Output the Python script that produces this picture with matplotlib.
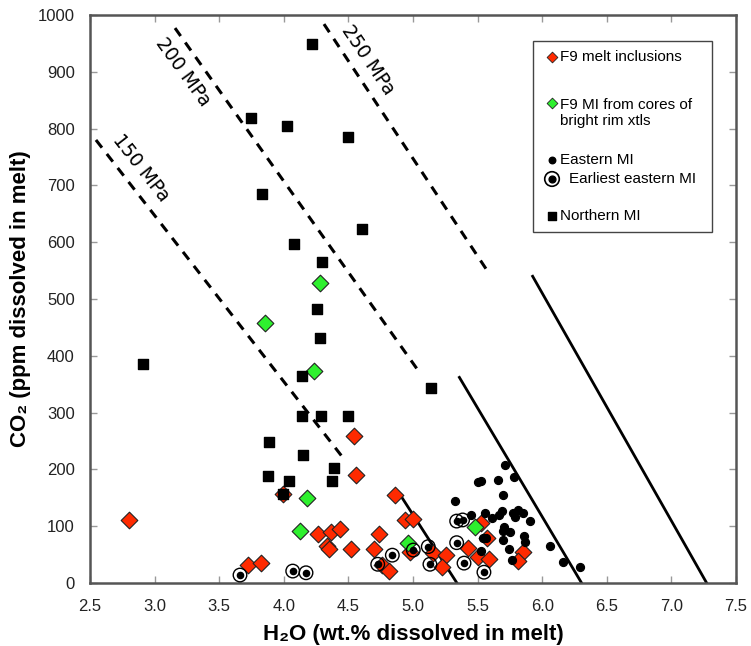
import matplotlib
matplotlib.use("Agg")
import matplotlib.pyplot as plt
from matplotlib.patches import Rectangle

plt.rcParams['font.family'] = ['Liberation Sans', 'DejaVu Sans']

# ---------------- data ----------------
red_h2o = [2.804, 3.720, 3.823, 4.543, 4.556, 3.991, 4.267, 4.363, 4.435, 4.332, 4.352, 4.520,
           4.698, 4.739, 4.861, 4.760, 4.814, 4.938, 4.997, 4.977, 5.157, 5.255, 5.227, 5.428,
           5.505, 5.588, 5.570, 5.524, 5.854, 5.815]
red_co2 = [111, 32, 35, 258, 190, 157, 87, 90, 95, 65, 60, 59,
           59, 86, 155, 32, 21, 111, 112, 55, 52, 49, 29, 62,
           46, 42, 79, 105, 55, 38]

green_h2o = [4.280, 3.854, 4.236, 4.180, 4.125, 4.964, 5.480]
green_co2 = [529, 457, 373, 149, 92, 70, 98]

east_h2o = [5.712, 5.782, 5.501, 5.524, 5.656, 5.694, 5.325, 5.560, 5.614, 5.449, 5.666, 5.686,
            5.772, 5.790, 5.815, 5.854, 5.906, 5.704, 5.699, 5.751, 5.859, 5.867, 5.694, 5.740,
            5.539, 5.565, 5.526, 5.769, 6.060, 6.159, 6.295]
east_co2 = [207, 187, 177, 180, 181, 155, 144, 124, 114, 119, 119, 126,
            123, 117, 129, 123, 110, 98, 92, 89, 82, 73, 75, 60,
            80, 80, 57, 40, 65, 37, 28]

early_h2o = [3.661, 4.069, 4.172, 4.727, 4.840, 5.002, 5.118, 5.131, 5.338, 5.384, 5.338, 5.395, 5.549]
early_co2 = [14, 21, 18, 33, 49, 58, 64, 33, 109, 111, 71, 35, 19]

north_h2o = [4.216, 3.746, 4.027, 4.494, 3.834, 4.603, 4.081, 4.298, 4.257, 4.280, 4.141, 2.908,
             3.888, 3.875, 4.141, 4.288, 4.494, 4.146, 4.391, 4.040, 4.373, 3.996, 5.137]
north_co2 = [949, 819, 805, 785, 685, 623, 597, 566, 482, 431, 364, 386,
             248, 188, 294, 294, 294, 225, 202, 179, 180, 157, 343]

# isobars (dashed): [x0, x1], [y0, y1]
dashed_labels = ['150 MPa', '200 MPa', '250 MPa']
dashed_h2o = [[2.546, 4.46], [3.158, 5.031], [4.311, 5.580]]
dashed_co2 = [[780, 220], [977, 377], [984, 548]]
# solid isobars
solid_h2o = [[4.91, 5.34], [5.359, 6.305], [5.926, 7.273]]
solid_co2 = [[152, 0], [362, 0], [540, 0]]

x_ticks = [2.5, 3.0, 3.5, 4.0, 4.5, 5.0, 5.5, 6.0, 6.5, 7.0, 7.5]
y_ticks = [0, 100, 200, 300, 400, 500, 600, 700, 800, 900, 1000]

RED = '#ff2a00'
GREEN = '#2ef02e'

fig = plt.figure(figsize=(7.51, 6.46), dpi=100)
ax = fig.add_axes([90/751, 1-583/646, 646/751, 568/646])
ax.set_xlim(2.5, 7.5)
ax.set_ylim(0, 1000)

for xs, ys in zip(dashed_h2o, dashed_co2):
    ax.plot(xs, ys, color='black', lw=2.2, ls=(0, (3.2, 2.6)), zorder=2)
for xs, ys in zip(solid_h2o, solid_co2):
    ax.plot(xs, ys, color='black', lw=2.0, zorder=2)

# isobar labels
lab_pos = [(141, 168, -52), (183, 72, -54), (368, 60, -56)]
for lab, (px, py, rot) in zip(dashed_labels, lab_pos):
    ax.text((px-90)/646, (583-py)/568, lab, transform=ax.transAxes, rotation=rot,
            rotation_mode='anchor', ha='center', va='center', fontsize=13.5,
            family=['DejaVu Sans'])

ax.scatter(red_h2o, red_co2, marker='D', s=72, c=RED, edgecolors='#222222', linewidths=0.8, zorder=3)
ax.scatter(green_h2o, green_co2, marker='D', s=72, c=GREEN, edgecolors='#222222', linewidths=0.8, zorder=4)
ax.scatter(early_h2o, early_co2, marker='o', s=95, facecolors='none', edgecolors='black', linewidths=1.0, zorder=5)
ax.scatter(early_h2o, early_co2, marker='o', s=20, c='black', zorder=5)
ax.scatter(east_h2o, east_co2, marker='o', s=32, c='black', zorder=5)
ax.scatter(north_h2o, north_co2, marker='s', s=50, c='black', zorder=6)

# axes styling
ax.set_xticks(x_ticks)
ax.set_xticklabels([f'{v:.1f}' for v in x_ticks])
ax.set_yticks(y_ticks)
ax.set_yticklabels([str(v) for v in y_ticks])
ax.tick_params(direction='in', length=5, width=1.0, color='#999999', top=True, right=True,
               labelsize=12, labelcolor='#222222')
ax.tick_params(axis='x', pad=11.5)
ax.tick_params(axis='y', pad=11)
for s in ax.spines.values():
    s.set_color('#555555')
    s.set_linewidth(1.8)

ax.set_xlabel('H\u2082O (wt.% dissolved in melt)', fontsize=16, fontweight='bold', labelpad=7)
ax.set_ylabel('CO\u2082 (ppm dissolved in melt)', fontsize=16, fontweight='bold', labelpad=5)

# manual legend
def ax_xy(px, py):
    return (px-90)/646, (583-py)/568

x0, y0 = ax_xy(533, 232)
x1, y1 = ax_xy(712, 41)
ax.add_patch(Rectangle((x0, y0), x1-x0, y1-y0, transform=ax.transAxes, facecolor='white',
                       edgecolor='#444444', lw=1.0, zorder=7))
mx = (552-90)/646
ax.scatter([mx], [ax_xy(0, 57)[1]], marker='D', s=30, c=RED, edgecolors='#222222', linewidths=0.6, transform=ax.transAxes, zorder=8)
ax.scatter([mx], [ax_xy(0, 103)[1]], marker='D', s=30, c=GREEN, edgecolors='#222222', linewidths=0.6, transform=ax.transAxes, zorder=8)
ax.scatter([mx], [ax_xy(0, 160)[1]], marker='o', s=22, c='black', transform=ax.transAxes, zorder=8)
ax.scatter([mx], [ax_xy(0, 179)[1]], marker='o', s=110, facecolors='none', edgecolors='black', linewidths=1.2, transform=ax.transAxes, zorder=8)
ax.scatter([mx], [ax_xy(0, 179)[1]], marker='o', s=24, c='black', transform=ax.transAxes, zorder=8)
ax.scatter([mx], [ax_xy(0, 216)[1]], marker='s', s=35, c='black', transform=ax.transAxes, zorder=8)
tx = (560-90)/646
legend_texts = [('F9 melt inclusions', tx, 57), ('F9 MI from cores of\nbright rim xtls', tx, 113),
                ('Eastern MI', tx, 160), ('Earliest eastern MI', (569-90)/646, 179),
                ('Northern MI', tx, 216)]
for t, xx, py in legend_texts:
    ax.text(xx, ax_xy(0, py)[1], t, transform=ax.transAxes, ha='left', va='center',
            fontsize=11, zorder=9, linespacing=1.2)

fig.savefig('out.png', dpi=100)
